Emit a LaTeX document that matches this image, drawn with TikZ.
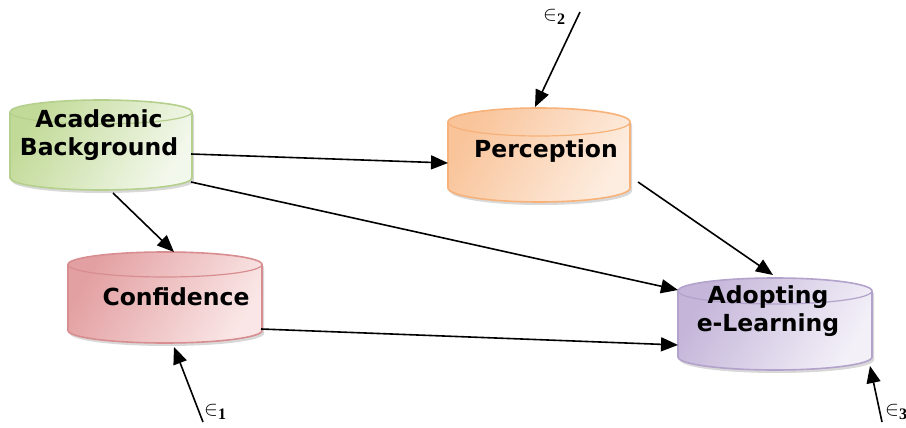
\documentclass[tikz,border=0pt]{standalone}
\usepackage{fontspec}
\setmainfont{DejaVu Sans}
\newfontfamily\subfont{Liberation Serif}
\usetikzlibrary{arrows.meta,shadows}
\definecolor{gB}{HTML}{B5CF8C}\definecolor{gD}{HTML}{C2DA98}\definecolor{gL}{HTML}{F3F8EC}
\definecolor{oB}{HTML}{F7B27A}\definecolor{oD}{HTML}{F9C49A}\definecolor{oL}{HTML}{FDEDE0}
\definecolor{rB}{HTML}{D88E90}\definecolor{rD}{HTML}{E3A0A2}\definecolor{rL}{HTML}{FAE6E6}
\definecolor{pB}{HTML}{B3A2CB}\definecolor{pD}{HTML}{C4B5D9}\definecolor{pL}{HTML}{F3F0F8}
\newcommand{\mycyl}[8]{% cx, yt, yb, a, ry, border, dark, light
  \shade[left color=#7, right color=#8, shading angle=60,
    drop shadow={shadow xshift=2pt, shadow yshift=-3pt, opacity=0.25, fill=black!60}]
    (#1-#4,#2) -- (#1-#4,#3) arc[start angle=180,end angle=0,x radius=#4,y radius=#5]
    -- (#1+#4,#2) arc[start angle=0,end angle=-180,x radius=#4,y radius=#5] -- cycle;
  \draw[#6, line width=1.6pt, line join=round]
    (#1-#4,#2) -- (#1-#4,#3) arc[start angle=180,end angle=0,x radius=#4,y radius=#5]
    -- (#1+#4,#2) arc[start angle=0,end angle=-180,x radius=#4,y radius=#5] -- cycle;
  \draw[#6, line width=1.2pt] (#1-#4,#2) arc[start angle=180,end angle=0,x radius=#4,y radius=#5];
}
\newcommand{\myeps}[1]{$\in$\raisebox{-4pt}{\fontsize{16}{16}\selectfont\subfont\bfseries #1}}
\tikzset{
  lbl/.style={font=\fontsize{23.5}{28}\selectfont\bfseries, align=center, inner sep=0pt},
  eps/.style={font=\fontsize{22}{22}\selectfont, anchor=west, inner sep=0pt},
  arr/.style={line width=1.6pt, -{Triangle[length=17pt,width=14pt]}, shorten >=0pt}
}
\begin{document}
\begin{tikzpicture}[x=1pt,y=-1pt]
\useasboundingbox (0,0) rectangle (906,428);
\fill[white] (0,0) rectangle (906,428);
% cylinders
\mycyl{101}{112}{178}{91}{12}{gB}{gD}{gL}
\mycyl{539}{122}{188}{91}{14}{oB}{oD}{oL}
\mycyl{165}{264.5}{330.5}{97}{12.5}{rB}{rD}{rL}
\mycyl{775}{291}{357}{97}{13}{pB}{pD}{pL}
% labels
\node[lbl] (ab) at (99,135) {Academic\\Background};
\node[lbl] (per) at (546,151) {Perception};
\node[lbl] (conf) at (176,297) {Confidence};
\node[lbl] (adopt) at (768,311) {Adopting\\e-Learning};
% attachment points
\coordinate (ab-r1) at (191,154);
\coordinate (ab-r2) at (191,182);
\coordinate (ab-b) at (113,193);
\coordinate (per-l) at (448,163);
\coordinate (per-t) at (535,107);
\coordinate (per-r) at (638,182);
\coordinate (conf-t) at (174,252);
\coordinate (conf-r) at (261,329);
\coordinate (conf-b) at (174,347);
\coordinate (adopt-l1) at (678,290);
\coordinate (adopt-l2) at (678,345);
\coordinate (adopt-t) at (773,275);
\coordinate (adopt-b) at (870,366);
\coordinate (e1s) at (203,422);
\coordinate (e2s) at (580,12);
\coordinate (e3s) at (882,422);
% connectors
\draw[arr] (ab-r1) -- (per-l);
\draw[arr] (ab-r2) -- (adopt-l1);
\draw[arr] (ab-b) -- (conf-t);
\draw[arr] (per-r) -- (adopt-t);
\draw[arr] (conf-r) -- (adopt-l2);
\draw[arr] (e2s) -- (per-t);
\draw[arr] (e1s) -- (conf-b);
\draw[arr] (e3s) -- (adopt-b);
% error labels
\node[eps] (e2) at (543,17) {\myeps{2}};
\node[eps] (e1) at (204,412) {\myeps{1}};
\node[eps] (e3) at (885,412) {\myeps{3}};
\end{tikzpicture}
\end{document}
